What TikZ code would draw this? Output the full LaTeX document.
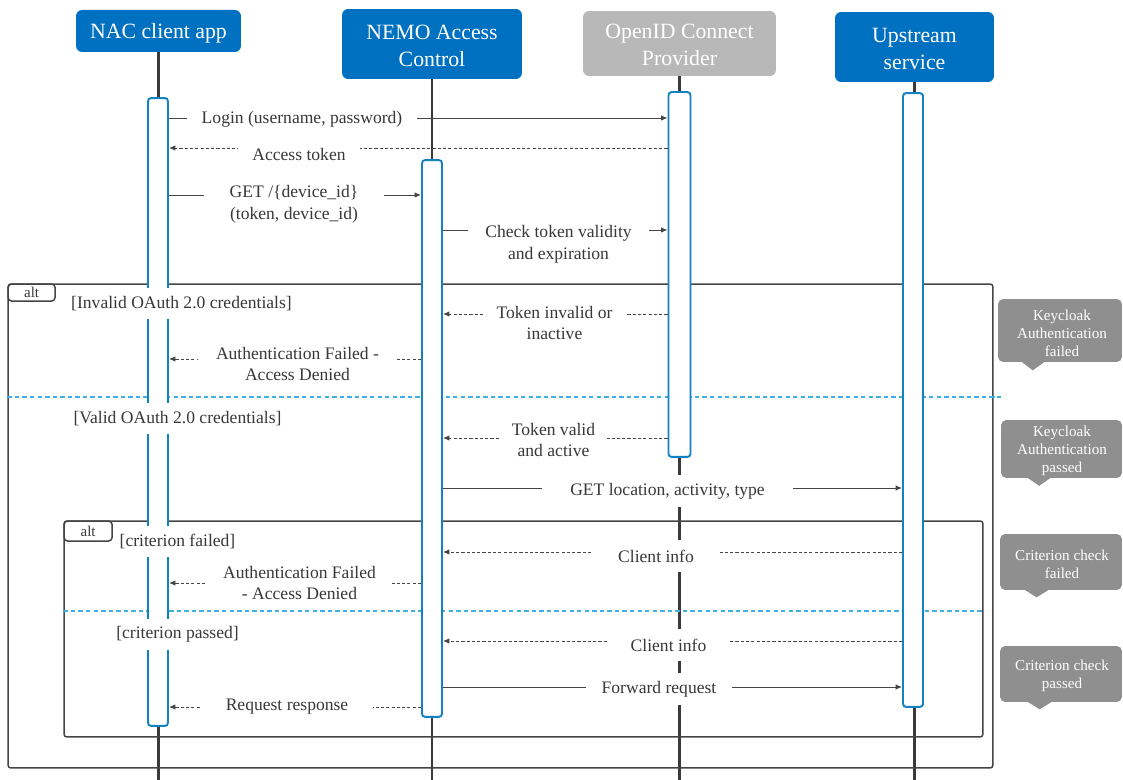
\documentclass[tikz,border=0pt]{standalone}
\usepackage{fontspec}
\setmainfont{Liberation Serif}
\usetikzlibrary{arrows.meta}
\definecolor{hdrblue}{HTML}{0070C0}
\definecolor{hdrgray}{HTML}{B8B8B8}
\definecolor{actblue}{HTML}{1282C2}
\definecolor{sepblue}{HTML}{3FAEE5}
\definecolor{ink}{HTML}{383838}
\definecolor{wire}{HTML}{454545}
\definecolor{callgray}{HTML}{8F8F8F}
\definecolor{lifegray}{HTML}{3A3A3A}

\begin{document}
\begin{tikzpicture}[x=0.02cm, y=-0.02cm,
  hdr/.style={fill=hdrblue, text=white, rounded corners=3.5pt, align=center,
    font=\fontsize{12.4}{15}\selectfont, inner sep=0pt},
  hdrg/.style={hdr, fill=hdrgray, text=white!95!black},
  hdrtext/.style={text=white, align=center, font=\fontsize{12.4}{15}\selectfont, inner sep=0pt},
  act/.style={draw=actblue, line width=1.1pt, fill=white, rounded corners=1.8pt, inner sep=0pt},
  life/.style={draw=lifegray, line width=1.2pt},
  msg/.style={draw=wire, line width=0.55pt, -{Latex[length=3.6pt,width=3pt]}},
  reply/.style={msg, dash pattern=on 1.8pt off 1.2pt},
  lbl/.style={fill=white, text=ink, font=\fontsize{10}{12.5}\selectfont, align=center,
    inner xsep=0pt, inner ysep=3.5pt, minimum height=0.64cm, yshift=-0.04cm},
  guard/.style={fill=white, text=ink, font=\fontsize{10}{12.5}\selectfont,
    inner xsep=2pt, inner ysep=0pt, minimum height=0.62cm, yshift=-0.03cm},
  frame/.style={draw=wire, line width=0.85pt, rounded corners=1.5pt, inner sep=0pt},
  tabbox/.style={draw=wire, line width=0.85pt, rounded corners=2pt, fill=white,
    font=\fontsize{8.5}{10}\selectfont, text=ink, inner sep=0pt},
  sep/.style={draw=sepblue, line width=0.6pt, dash pattern=on 2.5pt off 1.8pt},
  callout/.style={fill=callgray, rounded corners=3pt, inner sep=0pt},
  calltext/.style={text=white, align=center, font=\fontsize{8.6}{10.2}\selectfont, inner sep=0pt},
]
\useasboundingbox (0,0) rectangle (1123,780);

% participants (box, then its caption set a little low)
\node[hdr, minimum width=3.30cm, minimum height=0.84cm] (hNAC) at (158.5,31) {};
\node[hdrtext] (tNAC) at (158.5,33) {NAC client app};
\node[hdr, minimum width=3.60cm, minimum height=1.40cm] (hNEMO) at (432,44) {};
\node[hdrtext] (tNEMO) at (432,46) {NEMO Access\\Control};
\node[hdrg, minimum width=3.86cm, minimum height=1.30cm] (hOID) at (679.5,43.5) {};
\node[hdrtext] (tOID) at (679.5,45) {OpenID Connect\\Provider};
\node[hdr, minimum width=3.18cm, minimum height=1.40cm] (hUP) at (914.5,47) {};
\node[hdrtext] (tUP) at (914.5,49) {Upstream\\service};

% lifelines
\draw[life] (hNAC.south) -- (hNAC.south |- 0,780);
\draw[life] (hNEMO.south) -- (hNEMO.south |- 0,780);
\draw[life] (hOID.south) -- (hOID.south |- 0,780);
\draw[life] (hUP.south) -- (hUP.south |- 0,780);

% alt frames
\node[frame, minimum width=19.70cm, minimum height=9.68cm] (altA) at (500.5,526) {};
\node[tabbox, anchor=north west, minimum width=0.94cm, minimum height=0.34cm] (tabA) at (altA.north west) {alt};
\draw[sep] (altA.west |- 0,397) -- (altA.east |- 0,397) -- ++(7,0);
\node[frame, minimum width=18.38cm, minimum height=4.32cm] (altB) at (523.5,629) {};
\node[tabbox, anchor=north west, minimum width=0.96cm, minimum height=0.40cm] (tabB) at (altB.north west) {alt};
\draw[sep] (altB.west |- 0,611) -- (altB.east |- 0,611);

% activation bars
\node[act, minimum width=0.40cm, minimum height=12.56cm] (aNAC) at (158,412) {};
\node[act, minimum width=0.40cm, minimum height=11.14cm] (aNEMO) at (432,438.5) {};
\node[act, minimum width=0.44cm, minimum height=7.30cm] (aOID) at (679.5,274.5) {};
\node[act, minimum width=0.40cm, minimum height=12.28cm] (aUP) at (913,400) {};

% guards
\node[guard] (g1) at (181.5,302) {[Invalid OAuth 2.0 credentials]};
\node[guard] (g2) at (177.5,417) {[Valid OAuth 2.0 credentials]};
\node[guard] (g3) at (177.5,540) {[criterion failed]};
\node[guard] (g4) at (177.5,633) {[criterion passed]};

% messages
\draw[msg] (aNAC.east |- 0,118) -- (aOID.west |- 0,118);
\node[lbl, minimum width=4.62cm] (m1) at (302,117) {Login (username, password)};

\draw[reply] (aOID.west |- 0,148) -- (aNAC.east |- 0,148);
\node[lbl, minimum width=2.44cm] (m2) at (299,152) {Access token};

\draw[msg] (aNAC.east |- 0,195) -- (aNEMO.west |- 0,195);
\node[lbl, minimum width=3.60cm] (m3) at (294,202) {GET /\{device\_id\}\\(token, device\_id)};

\draw[msg] (aNEMO.east |- 0,230) -- (aOID.west |- 0,230);
\node[lbl, minimum width=3.62cm] (m4) at (558.5,242.5) {Check token validity\\and expiration};

\draw[reply] (aOID.west |- 0,314) -- (aNEMO.east |- 0,314);
\node[lbl, minimum width=2.86cm] (m5) at (554.5,321) {Token invalid or\\inactive};

\draw[reply] (aNEMO.west |- 0,359) -- (aNAC.east |- 0,359);
\node[lbl, minimum width=3.98cm] (m6) at (297.5,362) {Authentication Failed -\\Access Denied};

\draw[reply] (aOID.west |- 0,438) -- (aNEMO.east |- 0,438);
\node[lbl, minimum width=2.14cm] (m7) at (553.5,438) {Token valid\\and active};

\draw[msg] (aNEMO.east |- 0,488) -- (aUP.west |- 0,488);
\node[lbl, minimum width=5.02cm] (m8) at (667.5,489) {GET location, activity, type};

\draw[reply] (aUP.west |- 0,552) -- (aNEMO.east |- 0,552);
\node[lbl, minimum width=2.52cm] (m9) at (656,554) {Client info};

\draw[reply] (aNEMO.west |- 0,583) -- (aNAC.east |- 0,583);
\node[lbl, minimum width=3.70cm] (m10) at (299.5,581) {Authentication Failed\\- Access Denied};

\draw[reply] (aUP.west |- 0,641) -- (aNEMO.east |- 0,641);
\node[lbl, minimum width=2.46cm] (m11) at (668.5,643) {Client info};

\draw[msg] (aNEMO.east |- 0,687) -- (aUP.west |- 0,687);
\node[lbl, minimum width=2.92cm] (m12) at (659,687) {Forward request};

\draw[reply] (aNEMO.west |- 0,707) -- (aNAC.east |- 0,707);
\node[lbl, minimum width=3.44cm] (m13) at (287,705) {Request response};

% state notes: rounded box with a small pointer below
\node[callout, minimum width=2.48cm, minimum height=1.26cm] (c1) at (1060,330.5) {};
\fill[callgray] (c1.south west) ++(24,-0.5) -- ++(23,0) -- ++(-12,8.5) -- cycle;
\node[calltext] (n1) at (1062,333) {Keycloak\\Authentication\\failed};
\node[callout, minimum width=2.42cm, minimum height=1.16cm] (c2) at (1061.5,449) {};
\fill[callgray] (c2.south west) ++(27,-0.5) -- ++(23,0) -- ++(-11.5,8) -- cycle;
\node[calltext] (n2) at (1062,451) {Keycloak\\Authentication\\passed};
\node[callout, minimum width=2.44cm, minimum height=1.12cm] (c3) at (1061,562) {};
\fill[callgray] (c3.south west) ++(25,-0.5) -- ++(24,0) -- ++(-12,7.5) -- cycle;
\node[calltext] (n3) at (1062,564.5) {Criterion check\\failed};
\node[callout, minimum width=2.44cm, minimum height=1.12cm] (c4) at (1061,674) {};
\fill[callgray] (c4.south west) ++(28,-0.5) -- ++(24,0) -- ++(-12,7.5) -- cycle;
\node[calltext] (n4) at (1062,676) {Criterion check\\passed};
\end{tikzpicture}
\end{document}
